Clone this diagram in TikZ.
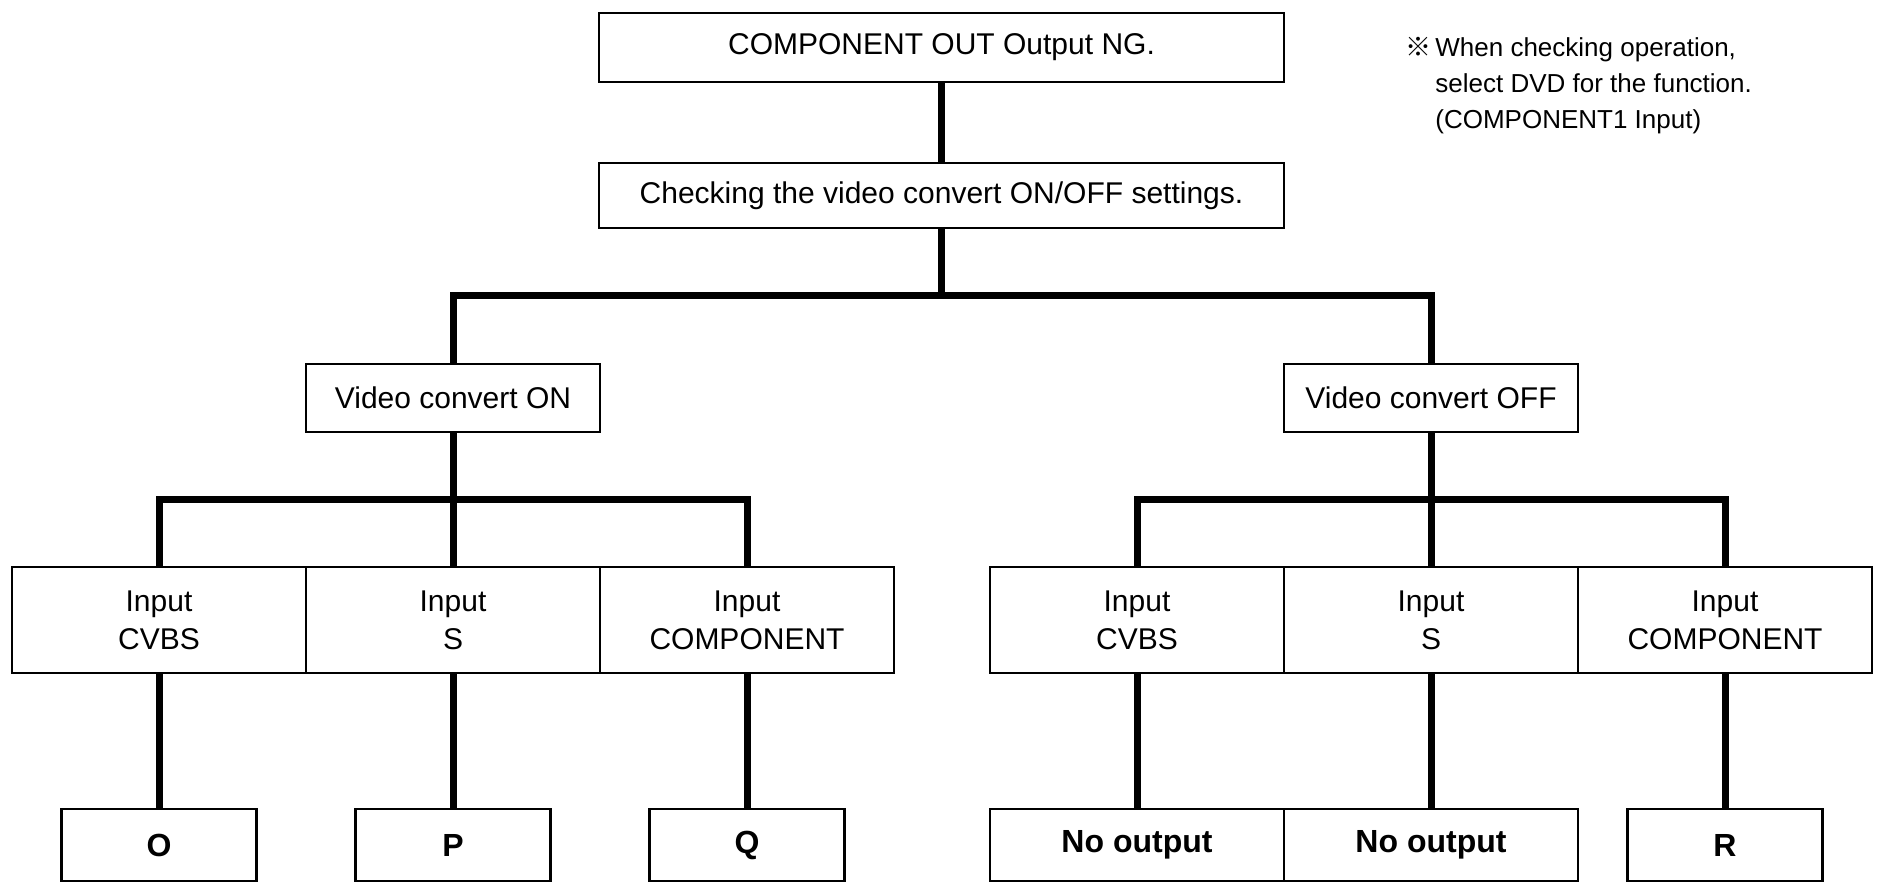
\documentclass[tikz,border=0pt]{standalone}
\usepackage{fontspec}
\setmainfont{Liberation Sans}
\newfontfamily\refmark{Noto Sans CJK JP}
\usetikzlibrary{positioning}

\begin{document}
\begin{tikzpicture}[x=0.5pt, y=-0.5pt,
    box/.style={draw, line width=1.1pt, inner sep=0pt, align=center,
                font=\fontsize{15}{19}\selectfont},
    headbox/.style={box, minimum width=342.5pt},
    modebox/.style={box, minimum width=147pt, minimum height=34pt},
    inbox/.style={box, minimum width=147pt, minimum height=53pt},
    endbox/.style={box, minimum height=36pt, font=\fontsize{16}{19}\selectfont\bfseries},
    link/.style={line width=3.5pt}]
  \useasboundingbox (0,0) rectangle (1880,884);
  % top of the chart
  \node[headbox, minimum height=34.5pt] (ng) at (941.5,47.5) {COMPONENT OUT Output NG.};
  \node[headbox, minimum height=32.5pt] (chk) at (941.5,195.5) {Checking the video convert ON/OFF settings.};
  \node[modebox] (on)  at (453,398)  {Video convert ON};
  \node[modebox] (off) at (1431,398) {Video convert OFF};
  % input rows
  \foreach \name/\x/\lab in {inA/159/CVBS, inB/453/S, inC/747/COMPONENT,
                              inD/1137/CVBS, inE/1431/S, inF/1725/COMPONENT}
     \node[inbox] (\name) at (\x,620) {Input\\\lab};
  % results
  \foreach \name/\x/\lab in {outA/159/O, outB/453/P, outC/747/Q, outF/1725/R}
     \node[endbox, minimum width=97.5pt] (\name) at (\x,845) {\lab};
  \node[endbox, minimum width=147pt] (outD) at (1137,845) {No output};
  \node[endbox, minimum width=147pt] (outE) at (1431,845) {No output};
  % note
  \node[anchor=north west, inner sep=0pt, align=left,
        font=\fontsize{13}{18}\selectfont] (note) at (1435,37)
     {\llap{{\refmark ※}\,}When checking operation,\\select DVD for the function.\\(COMPONENT1 Input)};
  % connectors
  \coordinate (bar0) at (941.5,295);
  \coordinate (bar1) at (453,499);
  \coordinate (bar2) at (1431,499);
  \draw[link] (ng) -- (chk);
  \draw[link] (chk.south) -- (bar0);
  \draw[link] (on.north) |- (bar0) -| (off.north);
  \draw[link] (on.south) -- (bar1);
  \draw[link] (inA.north) |- (bar1) -| (inC.north);
  \draw[link] (bar1) -- (inB.north);
  \draw[link] (off.south) -- (bar2);
  \draw[link] (inD.north) |- (bar2) -| (inF.north);
  \draw[link] (bar2) -- (inE.north);
  \foreach \a/\b in {inA/outA, inB/outB, inC/outC, inD/outD, inE/outE, inF/outF}
     \draw[link] (\a.south) -- (\b.north);
\end{tikzpicture}
\end{document}
